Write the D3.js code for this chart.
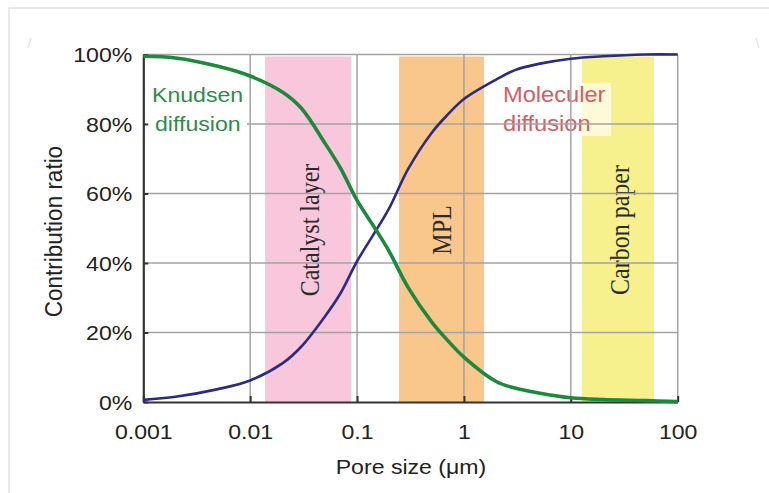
<!DOCTYPE html>
<html>
<head>
<meta charset="utf-8">
<script src="https://cdn.jsdelivr.net/npm/d3@7"></script>
<style>
  html, body { margin: 0; padding: 0; background: #fff; }
  svg { display: block; }
</style>
</head>
<body>
<div id="chart"></div>
<script>
// pore size (um) sampled along the curves
const poreSizes = [0.001, 0.002, 0.005, 0.01, 0.02, 0.03, 0.05, 0.07, 0.1, 0.15, 0.2, 0.3, 0.5, 0.7, 1, 2, 3, 5, 10, 20, 50, 100];
// contribution ratio (%)
const knudsen = [99.5, 99, 96.6, 93.8, 89.2, 84.6, 74.5, 67.3, 58, 49.6, 43.3, 33, 23, 17.8, 12.9, 5.9, 4, 2.6, 1.2, 0.7, 0.4, 0.1];
const molecular = [0.6, 1.5, 3.7, 6.2, 11.1, 15.9, 24.6, 31.3, 40.5, 49.3, 55.8, 67, 77.5, 82.6, 87.2, 92.8, 95.5, 97.3, 98.8, 99.5, 100, 100];

// layer pore size ranges (um)
const layers = ['Catalyst layer', 'MPL', 'Carbon paper'];
const layerStart = [0.0138, 0.247, 12.7];
const layerEnd = [0.088, 1.54, 60];
const layerColors = ['#f8c7dc', '#f9c68c', '#f6f18d'];

const xTicks = [0.001, 0.01, 0.1, 1, 10, 100];
const xTickLabels = ['0.001', '0.01', '0.1', '1', '10', '100'];
const yTicks = [0, 20, 40, 60, 80, 100];

const W = 769, H = 493;
const stretch = 1.1; // the picture is a bit wider than tall

const svg = d3.select('#chart').append('svg')
  .attr('width', W)
  .attr('height', H);

// faint frame of the screenshot
svg.append('path')
  .attr('d', `M9,${H} V8 H${W}`)
  .attr('fill', 'none')
  .attr('stroke', '#e2e2e2')
  .attr('stroke-width', 1.5);
svg.append('path').attr('d', 'M28,48 L31,38').attr('stroke', '#e6e6e6').attr('stroke-width', 1.5);
svg.append('path').attr('d', 'M756,38 L759,48').attr('stroke', '#e6e6e6').attr('stroke-width', 1.5);

const x = d3.scaleLog().domain([0.001, 100]).range([143.3, 677.7]);
const y = d3.scaleLinear().domain([0, 100]).range([402, 54.5]);

// layer bands
layers.forEach((name, i) => {
  const x0 = x(layerStart[i]), x1 = x(layerEnd[i]);
  svg.append('rect')
    .attr('x', x0)
    .attr('y', y(100) + 2)
    .attr('width', x1 - x0)
    .attr('height', y(0) - y(100) - 2)
    .attr('fill', layerColors[i]);
});

// Moleculer label (semi-transparent box, gridlines go over it)
svg.append('rect')
  .attr('x', 500).attr('y', 83)
  .attr('width', 111).attr('height', 53)
  .attr('fill', '#fff').attr('opacity', 0.65);

function label(txt, px, py, opts) {
  return svg.append('text')
    .attr('transform', `translate(${px},${py}) scale(${stretch},1)`)
    .attr('font-family', 'Liberation Sans, Arial, sans-serif')
    .attr('font-size', opts.size || 21)
    .attr('fill', opts.fill || '#222')
    .attr('text-anchor', opts.anchor || 'start')
    .text(txt);
}

label('Moleculer', 503, 102, { fill: '#d45d66', size: 21.5 });
label('diffusion', 503, 131, { fill: '#d45d66', size: 21.5 });

// band labels (serif, rotated)
const labelX = [310, 442, 620];
layers.forEach((name, i) => {
  svg.append('text')
    .attr('transform', `translate(${labelX[i]},230) scale(${stretch},1) rotate(-90)`)
    .attr('font-family', 'Liberation Serif, Times New Roman, serif')
    .attr('font-size', 24)
    .attr('fill', '#2a2a2a')
    .attr('text-anchor', 'middle')
    .attr('dy', '0.33em')
    .text(name);
});

// gridlines
const grid = svg.append('g')
  .attr('stroke', '#a3a3a3')
  .attr('stroke-width', 1.5);
xTicks.slice(1).forEach((t) => {
  grid.append('line')
    .attr('x1', x(t)).attr('x2', x(t))
    .attr('y1', y(100)).attr('y2', y(0));
});
yTicks.slice(1).forEach((t) => {
  grid.append('line')
    .attr('x1', x(0.001)).attr('x2', x(100))
    .attr('y1', y(t)).attr('y2', y(t));
});

// Knudsen label with opaque box hiding the gridline
svg.append('rect')
  .attr('x', 146).attr('y', 84)
  .attr('width', 101).attr('height', 54)
  .attr('fill', '#fff');
label('Knudsen', 152, 102, { fill: '#2f8a4e' });
label('diffusion', 155, 131, { fill: '#2f8a4e' });

// axes
const xAxis = svg.append('g')
  .attr('transform', `translate(0,${y(0)})`)
  .call(d3.axisBottom(x).tickValues(xTicks)
    .tickFormat((d, i) => xTickLabels[i])
    .tickSizeInner(-6).tickSizeOuter(0));
const yAxis = svg.append('g')
  .attr('transform', `translate(${x(0.001)},0)`)
  .call(d3.axisLeft(y).tickValues(yTicks)
    .tickFormat((d) => d + '%')
    .tickSizeInner(-5).tickSizeOuter(0));

[xAxis, yAxis].forEach((a) => {
  a.select('.domain').attr('stroke', '#333').attr('stroke-width', 2.2);
  a.selectAll('.tick line').attr('stroke', '#333').attr('stroke-width', 2);
  a.selectAll('text')
    .attr('font-family', 'Liberation Sans, Arial, sans-serif')
    .attr('font-size', 21)
    .attr('fill', '#222');
});
xAxis.selectAll('.tick text')
  .attr('y', 0).attr('dy', 0)
  .attr('transform', `translate(0,37) scale(${stretch},1)`);
yAxis.selectAll('.tick text')
  .attr('x', 0).attr('dy', '0.35em')
  .attr('transform', `translate(-11,0) scale(${stretch},1)`);

// axis titles
label('Pore size (\u03bcm)', 411, 474, { anchor: 'middle' });
svg.append('text')
  .attr('transform', `translate(53,231.5) scale(${stretch},1) rotate(-90)`)
  .attr('font-family', 'Liberation Sans, Arial, sans-serif')
  .attr('font-size', 22.5)
  .attr('fill', '#222')
  .attr('text-anchor', 'middle')
  .attr('dy', '0.35em')
  .text('Contribution ratio');

// curves
const line = (vals) => d3.line()
  .x((d, i) => x(poreSizes[i]))
  .y((d) => y(d))
  .curve(d3.curveCatmullRom.alpha(0.5))(vals);

svg.append('path')
  .attr('d', line(molecular))
  .attr('fill', 'none')
  .attr('stroke', '#2c2a82')
  .attr('stroke-width', 2.6);

svg.append('path')
  .attr('d', line(knudsen))
  .attr('fill', 'none')
  .attr('stroke', '#1b8a3c')
  .attr('stroke-width', 3.6);
</script>
</body>
</html>
